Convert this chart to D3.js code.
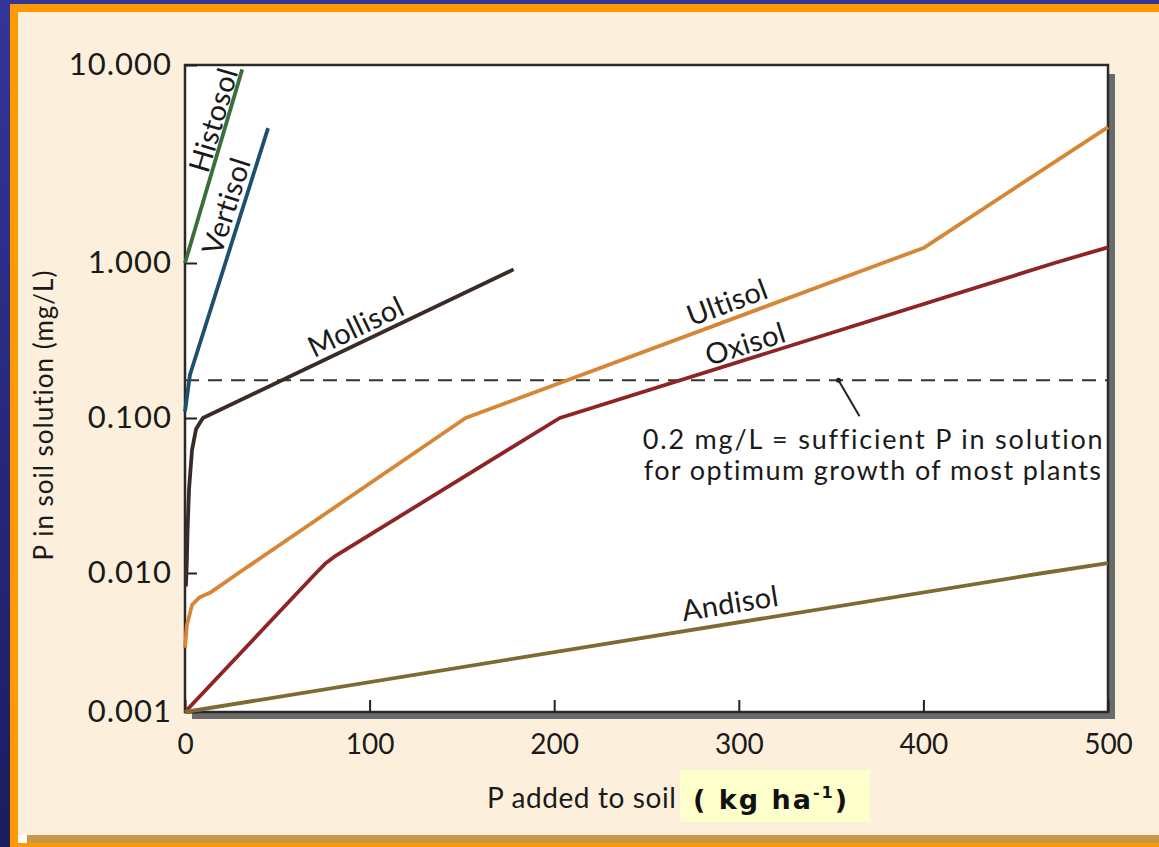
<!DOCTYPE html>
<html>
<head>
<meta charset="utf-8">
<script src="https://cdn.jsdelivr.net/npm/d3@7"></script>
<style>
  body { margin: 0; background: #fcf0dc; }
  svg { display: block; }
</style>
</head>
<body>
<svg id="chart"></svg>
<script>
/* chart values */
var xTicks = [0, 100, 200, 300, 400, 500];
var yTicks = [0.001, 0.01, 0.1, 1, 10];

var histosolX = [0, 31];
var histosolY = [1.0, 9.5];
var vertisolX = [0, 2.7, 45];
var vertisolY = [0.11, 0.19, 4.8];
var mollisolX = [0.5, 1, 1.4, 2.2, 3.8, 6, 9.7, 178];
var mollisolY = [0.008, 0.012, 0.019, 0.035, 0.062, 0.085, 0.1, 0.91];
var ultisolX = [0, 1, 3.8, 8, 13.5, 29, 152, 378, 400, 500];
var ultisolY = [0.0029, 0.0042, 0.0059, 0.0067, 0.0072, 0.01, 0.1, 1.0, 1.19, 4.86];
var oxisolX = [0, 71, 76, 82, 203, 471, 500];
var oxisolY = [0.001, 0.01, 0.0115, 0.013, 0.1, 1.0, 1.2];
var andisolX = [0, 465, 500];
var andisolY = [0.001, 0.01, 0.0116];

var soilNames = ["Histosol", "Vertisol", "Mollisol", "Ultisol", "Oxisol", "Andisol"];
var soilColors = ["#3c6e3a", "#1d4f6e", "#3a2b27", "#d68635", "#8e2424", "#7d6a35"];
/* where along each line (x value) its name sits */
var labelAt = [22.3, 30.8, 96.3, 297, 306, 297];
var labelLift = [3, 6, 6, 7, 5, 10];

var threshold = 0.175;
var pointerX = 354;

var width = 1159;
var height = 847;
var plotLeft = 185, plotTop = 65, plotRight = 1108, plotBottom = 712;

var svg = d3.select("#chart").attr("width", width).attr("height", height);

/* frame of the slide */
var defs = svg.append("defs");
var grad = defs.append("linearGradient").attr("id", "blue").attr("x1", 0).attr("y1", 0).attr("x2", 0).attr("y2", 1);
grad.append("stop").attr("offset", "0%").attr("stop-color", "#33359a");
grad.append("stop").attr("offset", "100%").attr("stop-color", "#1c1c60");

svg.append("rect").attr("width", width).attr("height", height).attr("fill", "url(#blue)");
svg.append("rect").attr("x", 10).attr("y", 4).attr("width", width - 10).attr("height", height - 4).attr("fill", "#ff9900");
svg.append("rect").attr("x", 18).attr("y", 12).attr("width", width - 18).attr("height", 823).attr("fill", "#fcf0dc");
svg.append("rect").attr("x", 18).attr("y", 835).attr("width", 9).attr("height", 8).attr("fill", "#ffffff");
svg.append("rect").attr("x", 27).attr("y", 835).attr("width", width - 27).attr("height", 8).attr("fill", "#c9974b");

var xScale = d3.scaleLinear().domain([0, 500]).range([plotLeft, plotRight]);
/* the printed axis is not evenly spaced per decade, so use a piecewise log scale */
var yScale = d3.scaleLog().domain(yTicks).range([712, 573, 418, 263, 65]);

/* plot box with drop shadow */
svg.append("rect")
  .attr("x", plotLeft + 7).attr("y", plotTop + 9)
  .attr("width", plotRight - plotLeft).attr("height", plotBottom - plotTop - 2)
  .attr("fill", "#6b6b6b");
svg.append("rect")
  .attr("x", plotLeft).attr("y", plotTop)
  .attr("width", plotRight - plotLeft).attr("height", plotBottom - plotTop)
  .attr("fill", "#ffffff")
  .attr("stroke", "#2a2a2a")
  .attr("stroke-width", 2.5);

var font = "Lato, 'Open Sans', sans-serif";

/* axes */
var yAxis = d3.axisLeft(yScale)
  .tickValues(yTicks)
  .tickFormat(d3.format(".3f"))
  .tickSizeInner(-12)
  .tickSizeOuter(0)
  .tickPadding(13);
var gy = svg.append("g").attr("transform", "translate(" + plotLeft + ",0)").call(yAxis);

var xAxis = d3.axisBottom(xScale)
  .tickValues(xTicks)
  .tickFormat(d3.format("d"))
  .tickSizeInner(-12)
  .tickSizeOuter(0)
  .tickPadding(22);
var gx = svg.append("g").attr("transform", "translate(0," + plotBottom + ")").call(xAxis);

[gx, gy].forEach((g) => {
  g.select(".domain").remove();
  g.selectAll(".tick line").attr("stroke", "#222").attr("stroke-width", 2);
  g.selectAll(".tick text").attr("fill", "#1a1a1a").style("font-family", font);
});
gy.selectAll(".tick text").style("font-size", "31px").style("letter-spacing", "1px");
gx.selectAll(".tick text").style("font-size", "28px");

/* threshold line */
svg.append("line")
  .attr("x1", plotLeft).attr("x2", plotRight)
  .attr("y1", yScale(threshold)).attr("y2", yScale(threshold))
  .attr("stroke", "#333")
  .attr("stroke-width", 2)
  .attr("stroke-dasharray", "14,9");

/* soil lines */
var series = [
  [histosolX, histosolY],
  [vertisolX, vertisolY],
  [mollisolX, mollisolY],
  [ultisolX, ultisolY],
  [oxisolX, oxisolY],
  [andisolX, andisolY]
];

var line = d3.line()
  .x((d) => xScale(d[0]))
  .y((d) => yScale(d[1]));

series.forEach((s, i) => {
  var pts = s[0].map((x, j) => [x, s[1][j]]);
  svg.append("path")
    .datum(pts)
    .attr("d", line)
    .attr("fill", "none")
    .attr("stroke", soilColors[i])
    .attr("stroke-width", 3.8)
    .attr("stroke-linejoin", "round");

  /* name placed along the line, rotated to its slope */
  var v = labelAt[i];
  var k = 0;
  while (k < s[0].length - 2 && s[0][k + 1] < v) k++;
  var x0 = xScale(s[0][k]), y0 = yScale(s[1][k]);
  var x1 = xScale(s[0][k + 1]), y1 = yScale(s[1][k + 1]);
  var t = (xScale(v) - x0) / (x1 - x0);
  var px = x0 + t * (x1 - x0);
  var py = y0 + t * (y1 - y0);
  var angle = Math.atan2(y1 - y0, x1 - x0) * 180 / Math.PI;

  svg.append("text")
    .attr("transform", "translate(" + px + "," + py + ") rotate(" + angle + ")")
    .attr("y", -labelLift[i])
    .attr("text-anchor", "middle")
    .style("font-family", font)
    .style("font-size", "29px")
    .style("letter-spacing", "0.4px")
    .attr("fill", "#1a1a1a")
    .text(soilNames[i]);
});

/* annotation */
var ty = yScale(threshold);
svg.append("circle")
  .attr("cx", xScale(pointerX)).attr("cy", ty)
  .attr("r", 2.5).attr("fill", "#222");
svg.append("line")
  .attr("x1", xScale(pointerX)).attr("y1", ty)
  .attr("x2", xScale(pointerX) + 21).attr("y2", ty + 36)
  .attr("stroke", "#222").attr("stroke-width", 2);

var note = svg.append("text")
  .attr("x", xScale(248))
  .attr("y", ty + 69)
  .style("font-family", font)
  .style("font-size", "27px")
  .attr("fill", "#1a1a1a");
note.append("tspan").style("letter-spacing", "1.8px").text("0.2 mg/L = sufficient P in solution");
note.append("tspan").attr("x", xScale(248.5)).attr("dy", 31).style("letter-spacing", "1.4px").text("for optimum growth of most plants");

/* axis titles */
svg.append("text")
  .attr("transform", "translate(53,415) rotate(-90)")
  .attr("text-anchor", "middle")
  .style("font-family", font)
  .style("font-size", "26px")
  .style("letter-spacing", "1px")
  .attr("fill", "#1a1a1a")
  .text("P in soil solution (mg/L)");

svg.append("text")
  .attr("x", 487).attr("y", 808)
  .style("font-family", font)
  .style("font-size", "28px")
  .style("letter-spacing", "0.6px")
  .attr("fill", "#1a1a1a")
  .text("P added to soil");

svg.append("rect")
  .attr("x", 680).attr("y", 770)
  .attr("width", 190).attr("height", 52)
  .attr("fill", "#ffffcc");

var unit = svg.append("text")
  .attr("x", 693).attr("y", 809)
  .style("font-family", "'DejaVu Sans', sans-serif")
  .style("font-size", "27px")
  .style("font-weight", "bold")
  .style("letter-spacing", "2px")
  .attr("fill", "#111");
unit.append("tspan").text("( kg ha");
unit.append("tspan").attr("dy", -11).style("font-size", "16px").text("-1");
unit.append("tspan").attr("dy", 11).text(")");
</script>
</body>
</html>
